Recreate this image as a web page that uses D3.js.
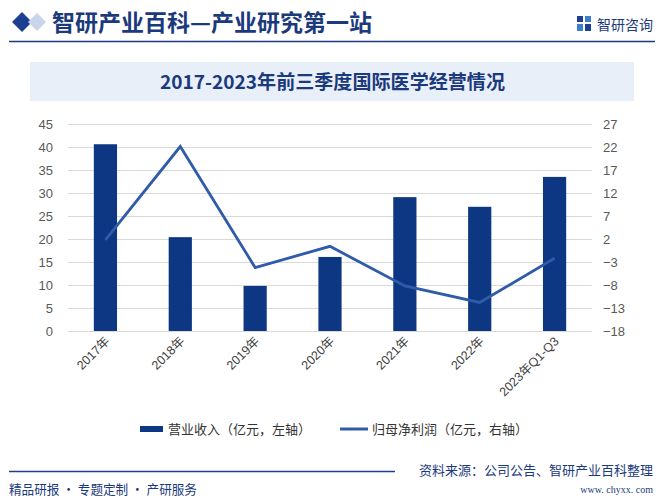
<!DOCTYPE html>
<html><head><meta charset="utf-8">
<script src="https://cdn.jsdelivr.net/npm/d3@7"></script>
<style>body{margin:0;background:#fff}svg{display:block}</style>
</head><body>
<script>
const categories = ["2017年","2018年","2019年","2020年","2021年","2022年","2023年Q1-Q3"];
const revenue = [40.6, 20.4, 9.8, 16.1, 29.1, 27.0, 33.5];
const netProfit = [1.8, 22.1, -4.2, 0.4, -8.2, -11.8, -2.2];
const leftTicks = [0,5,10,15,20,25,30,35,40,45];
const rightTicks = [-18,-13,-8,-3,2,7,12,17,22,27];
const seriesNames = ["营业收入（亿元，左轴）","归母净利润（亿元，右轴）"];

const W=662,H=504;
const svg=d3.select("body").append("svg").attr("width",W).attr("height",H);
const navy="#1b3a7c", barC="#0e3783", lineC="#2f5ba8";
const cjk="'Noto Sans CJK SC','Noto Sans',sans-serif";

// header
const hdr=svg.append("g");
hdr.append("path").attr("d","M12,22 L22,12 L32,22 L22,32 Z").attr("fill","#1c3f91");
hdr.append("path").attr("d","M28,22 L37,13 L46,22 L37,31 Z").attr("fill","#c9d5ea");
hdr.append("text").attr("x",52).attr("y",31).attr("font-family",cjk).attr("font-weight","bold")
  .attr("font-size",23).attr("fill",navy).attr("textLength",320).attr("lengthAdjust","spacingAndGlyphs")
  .text("智研产业百科—产业研究第一站");
hdr.append("line").attr("x1",9).attr("x2",655).attr("y1",41.5).attr("y2",41.5).attr("stroke",navy).attr("stroke-width",1.5);
// logo
const lg=hdr.append("g").attr("transform","translate(577,16)");
lg.append("rect").attr("x",0).attr("y",0).attr("width",6).attr("height",6).attr("fill","#1c3f91");
lg.append("rect").attr("x",8).attr("y",0).attr("width",6).attr("height",6).attr("fill","#3c7fd0");
lg.append("rect").attr("x",0).attr("y",8).attr("width",6).attr("height",7).attr("fill","#3c7fd0");
lg.append("rect").attr("x",8).attr("y",8).attr("width",6).attr("height",7).attr("fill","#1c3f91");
hdr.append("text").attr("x",597).attr("y",30).attr("font-family",cjk).attr("font-size",14).attr("fill",navy).text("智研咨询");

// title banner
svg.append("rect").attr("x",30).attr("y",62).attr("width",604).attr("height",39).attr("fill","#e9eff9");
svg.append("text").attr("x",160).attr("y",89).attr("font-family",cjk)
  .attr("font-weight","bold").attr("font-size",19).attr("fill",navy)
  .attr("textLength",345).attr("lengthAdjust","spacingAndGlyphs")
  .text("2017-2023年前三季度国际医学经营情况");

// scales
const x=d3.scaleBand().domain(categories).range([68,592]).paddingInner(0.69).paddingOuter(0.345);
const yL=d3.scaleLinear().domain([0,45]).range([331,124]);
const yR=d3.scaleLinear().domain([-18,27]).range([331,124]);

// grid
svg.append("g").selectAll("line").data(leftTicks).join("line")
  .attr("x1",68).attr("x2",592).attr("y1",d=>Math.round(yL(d))+0.5).attr("y2",d=>Math.round(yL(d))+0.5)
  .attr("stroke","#d9d9d9").attr("stroke-width",1);

// axes
const axL=d3.axisLeft(yL).tickValues(leftTicks).tickSize(0).tickPadding(0);
const gL=svg.append("g").attr("transform","translate(53,0)").call(axL);
gL.select(".domain").remove();
gL.selectAll("text").attr("font-family","Arial,'Liberation Sans',sans-serif").attr("font-size",13).attr("fill","#595959");
const axR=d3.axisRight(yR).tickValues(rightTicks).tickSize(0).tickPadding(0);
const gR=svg.append("g").attr("transform","translate(603,0)").call(axR);
gR.select(".domain").remove();
gR.selectAll("text").attr("font-family","Arial,'Liberation Sans',sans-serif").attr("font-size",13).attr("fill","#595959");

// bars
svg.append("g").selectAll("rect").data(revenue).join("rect")
  .attr("x",(d,i)=>x(categories[i])).attr("width",x.bandwidth())
  .attr("y",d=>yL(d)).attr("height",d=>yL(0)-yL(d)).attr("fill",barC);

// line
const line=d3.line().x((d,i)=>x(categories[i])+x.bandwidth()/2).y(d=>yR(d));
svg.append("path").datum(netProfit).attr("d",line).attr("fill","none").attr("stroke",lineC)
  .attr("stroke-width",2.8).attr("stroke-linejoin","miter");

// x labels
svg.append("g").selectAll("text").data(categories).join("text")
  .attr("transform",d=>`translate(${x(d)+x.bandwidth()/2+5},${342}) rotate(-45)`)
  .attr("text-anchor","end").attr("font-family","Arial,'Liberation Sans',"+cjk).attr("font-size",12.5)
  .attr("fill","#404040").text(d=>d);

// legend
svg.append("rect").attr("x",140).attr("y",426).attr("width",23).attr("height",6).attr("fill",barC);
svg.append("text").attr("x",168).attr("y",434).attr("font-family",cjk).attr("font-size",13).attr("fill","#333").text(seriesNames[0]);
svg.append("line").attr("x1",340).attr("x2",368).attr("y1",429).attr("y2",429).attr("stroke",lineC).attr("stroke-width",3);
svg.append("text").attr("x",372).attr("y",434).attr("font-family",cjk).attr("font-size",13).attr("fill","#333").text(seriesNames[1]);

// footer
svg.append("line").attr("x1",9).attr("x2",395).attr("y1",471.5).attr("y2",471.5).attr("stroke","#1c3f91").attr("stroke-width",1.5);
svg.append("text").attr("x",9).attr("y",494).attr("font-family",cjk).attr("font-size",13).attr("fill",navy)
  .attr("textLength",188).attr("lengthAdjust","spacingAndGlyphs").text("精品研报 · 专题定制 · 产研服务");
svg.append("text").attr("x",653).attr("y",475).attr("text-anchor","end").attr("font-family",cjk).attr("font-size",13).attr("fill",navy).text("资料来源：公司公告、智研产业百科整理");
svg.append("text").attr("x",653).attr("y",493).attr("text-anchor","end").attr("font-family","'Liberation Serif','DejaVu Serif',serif").attr("font-size",10).attr("fill",navy).text("www. chyxx. com");
</script>
</body></html>
